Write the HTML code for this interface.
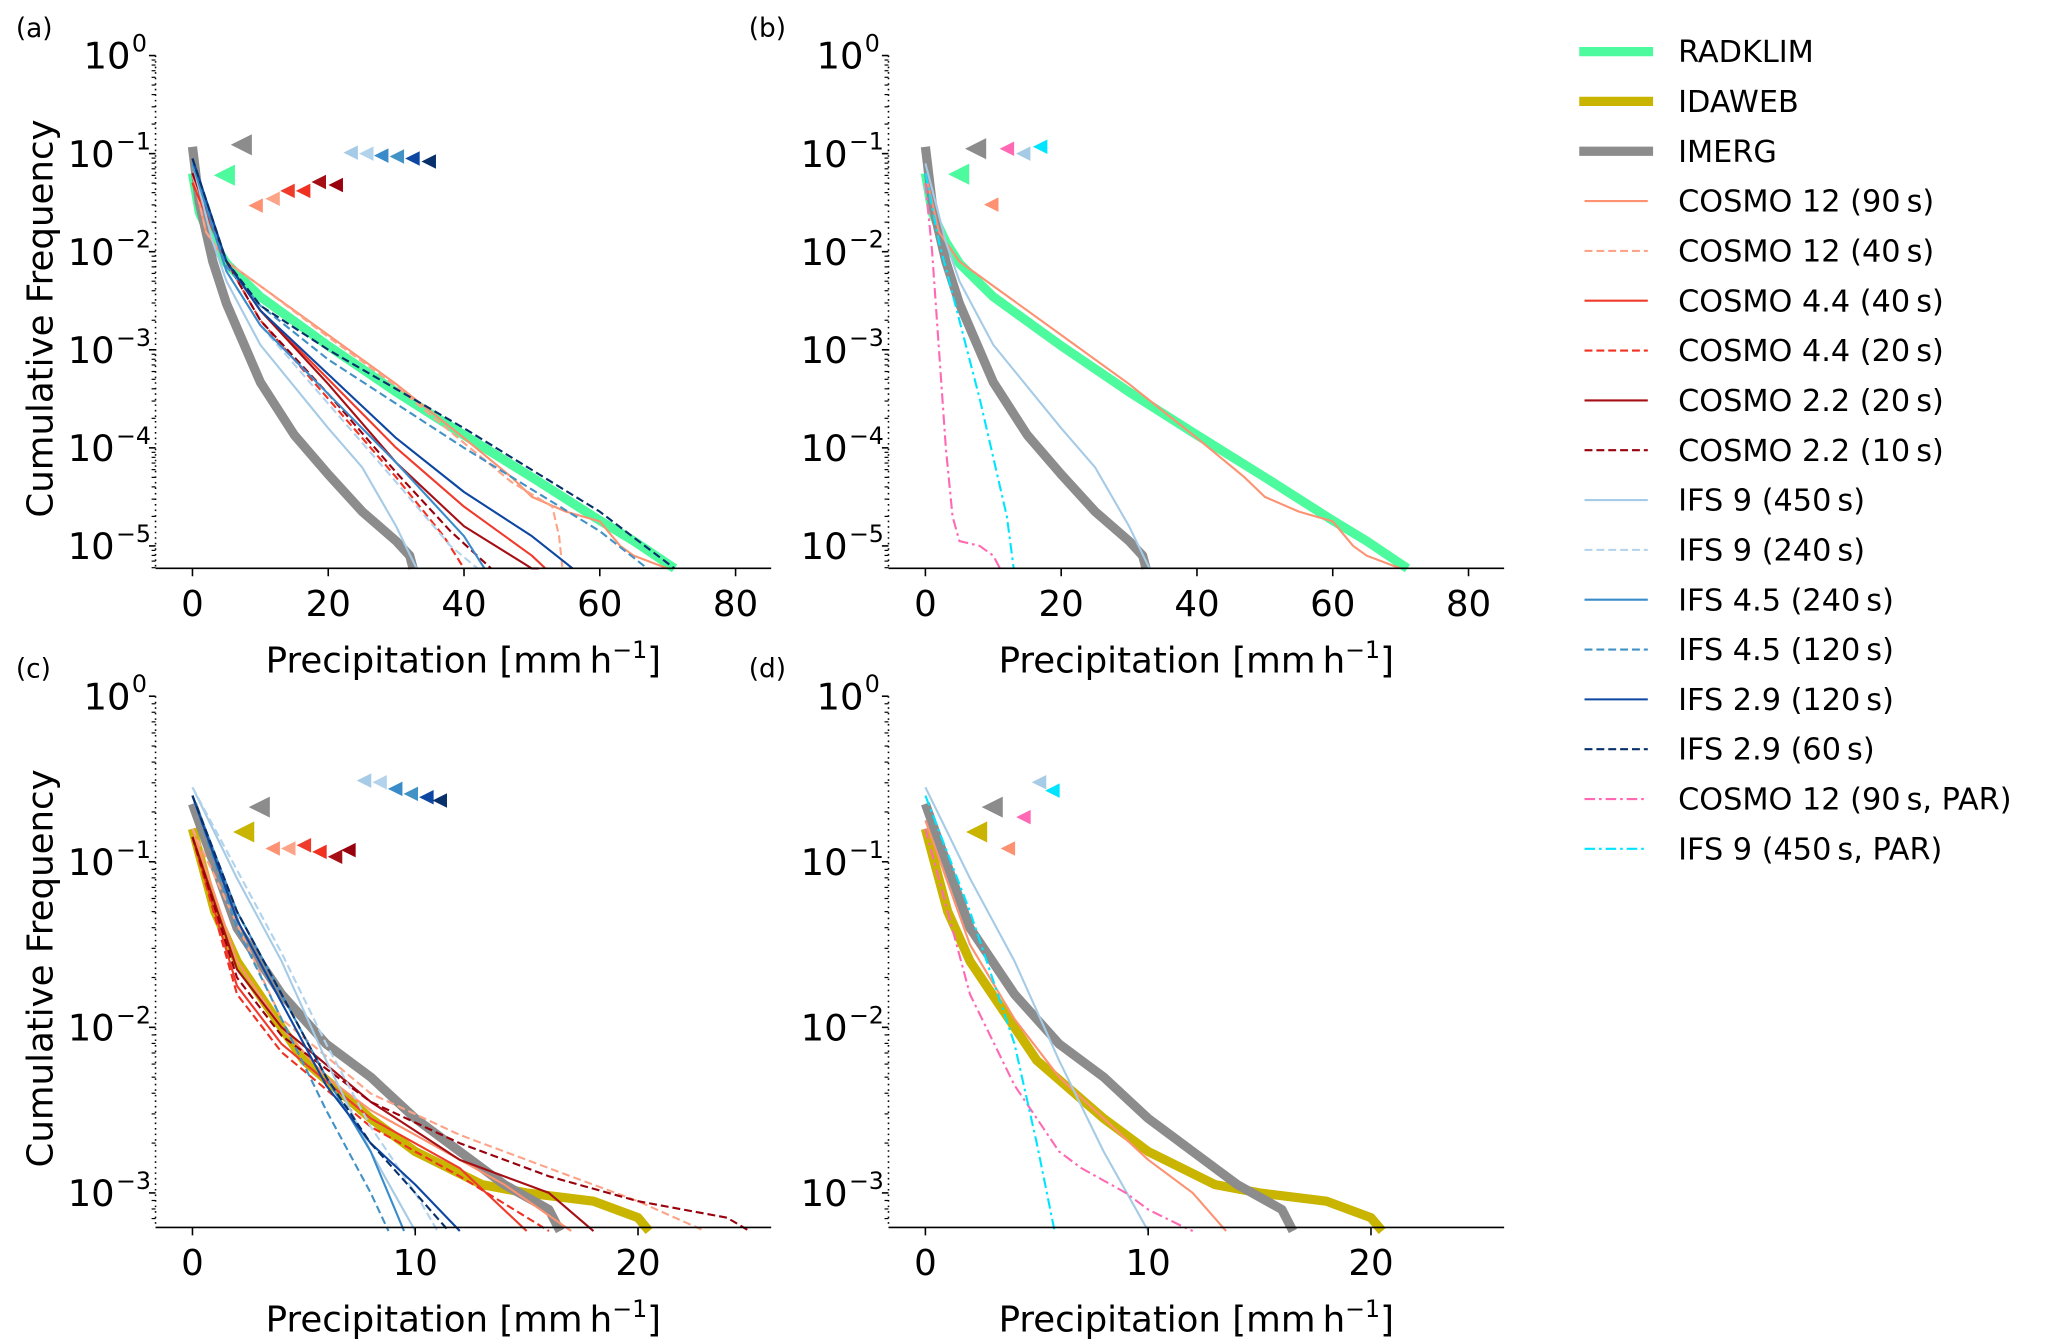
<!DOCTYPE html>
<html><head><meta charset="utf-8"><style>
html,body{margin:0;padding:0;background:#fff}
svg{display:block;font-family:"DejaVu Sans","Liberation Sans",sans-serif}
</style></head><body>
<svg id="chart" xmlns="http://www.w3.org/2000/svg" width="2067" height="1341" viewBox="0 0 1568 1017"></svg>
<script>
// ---- series metadata ----
const seriesNames = ["RADKLIM","IDAWEB","IMERG","COSMO 12 (90\u2009s)","COSMO 12 (40\u2009s)","COSMO 4.4 (40\u2009s)","COSMO 4.4 (20\u2009s)","COSMO 2.2 (20\u2009s)","COSMO 2.2 (10\u2009s)","IFS 9 (450\u2009s)","IFS 9 (240\u2009s)","IFS 4.5 (240\u2009s)","IFS 4.5 (120\u2009s)","IFS 2.9 (120\u2009s)","IFS 2.9 (60\u2009s)","COSMO 12 (90\u2009s, PAR)","IFS 9 (450\u2009s, PAR)"];
const seriesColors = ["#4dfa9d","#c9b400","#8c8c8c","#fc9272","#fca488","#ef3b2c","#f03020","#a50f15","#99000d","#a6cbe6","#b3d3ec","#3a8bc9","#4292c6","#0d47a1","#08306b","#ff69b4","#00e5ff"];
// ---- panel (a): x values [mm/h], log10 frequency ----
const aX = {
 0:[0,1,3,5,10,20,30,40,50,60,65,71],
 2:[0,1,3,5,10,15,20,25,30,32,32.5],
 3:[0,2,5,10,20,30,40,47,50,55,60,63,65,70],
 4:[0,2,5,10,20,30,40,47,53,54,54.5],
 5:[0,5,10,20,30,40,50,52],
 6:[0,5,10,20,30,37,40],
 7:[0,5,10,20,30,40,50,51],
 8:[0,5,10,20,30,38,44],
 9:[0,3,5,10,20,25,30,33],
 10:[0,5,10,20,30,38,42],
 11:[0,5,10,20,30,40,43],
 12:[0,5,10,20,40,60,67],
 13:[0,5,10,20,30,40,50,56],
 14:[0,5,10,20,40,60,71]};
const aY = {
 0:[-1.2,-1.6,-1.9,-2.12,-2.46,-2.96,-3.43,-3.87,-4.3,-4.74,-4.95,-5.23],
 2:[-0.93,-1.5,-2.1,-2.53,-3.33,-3.87,-4.27,-4.65,-4.95,-5.1,-5.23],
 3:[-1.2,-1.8,-2.1,-2.35,-2.85,-3.35,-3.9,-4.3,-4.5,-4.65,-4.75,-5.0,-5.1,-5.23],
 4:[-1.2,-1.8,-2.1,-2.35,-2.87,-3.37,-3.95,-4.35,-4.6,-4.9,-5.23],
 5:[-1.3,-2.1,-2.6,-3.3,-4.0,-4.6,-5.1,-5.23],
 6:[-1.3,-2.1,-2.7,-3.5,-4.3,-4.9,-5.23],
 7:[-1.2,-2.1,-2.6,-3.35,-4.15,-4.8,-5.23,-5.23],
 8:[-1.2,-2.1,-2.7,-3.45,-4.25,-4.85,-5.23],
 9:[-1.1,-1.9,-2.3,-2.95,-3.8,-4.2,-4.8,-5.23],
 10:[-1.1,-2.2,-2.75,-3.55,-4.35,-5.0,-5.23],
 11:[-1.1,-2.2,-2.75,-3.45,-4.15,-4.9,-5.23],
 12:[-1.1,-2.15,-2.55,-3.1,-4.0,-4.85,-5.23],
 13:[-1.05,-2.1,-2.6,-3.25,-3.9,-4.45,-4.9,-5.23],
 14:[-1.05,-2.1,-2.55,-3.0,-3.8,-4.65,-5.23]};
// ---- panel (b) ----
const bX = {0:aX[0],2:aX[2],3:aX[3],9:aX[9],
 15:[0,1,2,3,4,5,8,10,11],
 16:[0,2,5,8,10,12,13]};
const bY = {0:aY[0],2:aY[2],3:aY[3],9:aY[9],
 15:[-1.3,-2.0,-3.0,-4.0,-4.7,-4.95,-5.0,-5.1,-5.23],
 16:[-1.2,-1.9,-2.7,-3.5,-4.1,-4.7,-5.23]};
// ---- panel (c) ----
const cX = {
 1:[0,1,2,3,5,8,10,13,15,18,20,20.5],
 2:[0,2,4,6,8,10,12,14,16,16.5],
 3:[0,2,4,6,8,10,14,17],
 4:[0,4,8,12,16,20,23],
 5:[0,2,4,8,12,15],
 6:[0,2,4,8,12,16],
 7:[0,2,4,8,12,16,18],
 8:[0,2,4,8,12,16,20,24,25],
 9:[0,2,4,6,8,10],
 10:[0,2,4,6,8,10,11],
 11:[0,2,4,6,8,9.5],
 12:[0,2,4,6,8,8.8],
 13:[0,2,4,6,8,10,12],
 14:[0,2,4,6,8,10,11.5]};
const cY = {
 1:[-0.8,-1.3,-1.6,-1.8,-2.2,-2.55,-2.75,-2.95,-3.0,-3.05,-3.15,-3.23],
 2:[-0.65,-1.4,-1.8,-2.1,-2.3,-2.55,-2.75,-2.95,-3.1,-3.23],
 3:[-0.8,-1.6,-2.0,-2.3,-2.5,-2.65,-2.95,-3.23],
 4:[-0.8,-1.95,-2.4,-2.65,-2.85,-3.05,-3.23],
 5:[-0.85,-1.75,-2.1,-2.55,-2.85,-3.23],
 6:[-0.85,-1.8,-2.15,-2.6,-2.9,-3.23],
 7:[-0.85,-1.65,-2.0,-2.45,-2.8,-3.0,-3.23],
 8:[-0.85,-1.7,-2.05,-2.45,-2.7,-2.9,-3.05,-3.15,-3.23],
 9:[-0.55,-1.1,-1.6,-2.2,-2.75,-3.23],
 10:[-0.55,-1.05,-1.55,-2.1,-2.6,-3.0,-3.23],
 11:[-0.6,-1.3,-1.8,-2.3,-2.75,-3.23],
 12:[-0.6,-1.4,-1.95,-2.5,-3.0,-3.23],
 13:[-0.6,-1.35,-1.85,-2.35,-2.7,-2.95,-3.23],
 14:[-0.6,-1.3,-1.8,-2.3,-2.7,-3.0,-3.23]};
// ---- panel (d) ----
const dX = {1:cX[1],2:cX[2],9:cX[9],
 3:[0,2,4,6,8,10,12,13.5],
 15:[0,2,4,5,6,7,9,10,11.5,12],
 16:[0,2,4,5,5.8]};
const dY = {1:cY[1],2:cY[2],9:cY[9],
 3:[-0.75,-1.5,-1.95,-2.3,-2.55,-2.8,-3.0,-3.23],
 15:[-0.8,-1.8,-2.35,-2.55,-2.75,-2.85,-3.0,-3.1,-3.2,-3.23],
 16:[-0.6,-1.3,-2.1,-2.7,-3.23]};
// ---- triangle markers (series index, x, log10 y) ----
const aMarkS=[2,0,3,4,5,6,7,8,9,10,11,12,13,14];
const aMarkX=[7.2,4.7,9.3,11.8,14.0,16.3,18.6,21.1,23.3,25.6,27.8,30.1,32.4,34.8];
const aMarkY=[-0.91,-1.22,-1.53,-1.46,-1.38,-1.38,-1.29,-1.32,-0.99,-1.0,-1.02,-1.03,-1.05,-1.08];
const bMarkS=[2,0,3,15,9,16];
const bMarkX=[7.4,4.9,9.7,12,14.4,16.9];
const bMarkY=[-0.95,-1.21,-1.52,-0.95,-1.0,-0.93];
const cMarkS=[2,1,3,4,5,6,7,8,9,10,11,12,13,14];
const cMarkX=[3.0,2.3,3.6,4.3,5.0,5.7,6.4,7.0,7.7,8.4,9.1,9.8,10.5,11.1];
const cMarkY=[-0.67,-0.82,-0.92,-0.92,-0.9,-0.94,-0.97,-0.93,-0.51,-0.52,-0.56,-0.59,-0.61,-0.63];
const dMarkS=[2,1,3,15,9,16];
const dMarkX=[3.0,2.3,3.7,4.4,5.1,5.7];
const dMarkY=[-0.67,-0.82,-0.92,-0.73,-0.52,-0.57];
const xTicksTop=[0,20,40,60,80];
const xTicksBot=[0,10,20];

const NS="http://www.w3.org/2000/svg";
const svg=document.getElementById('chart');
function mk(tag,attrs,parent){const e=document.createElementNS(NS,tag);for(const k in attrs)e.setAttribute(k,attrs[k]);(parent||svg).appendChild(e);return e;}
function styleOf(i){
  if(i<=2) return {w:7,dash:null};
  if(i>=15) return {w:1.6,dash:"8,3,2,3"};
  const dashed=[4,6,8,10,12,14].includes(i);
  return {w:1.6,dash:dashed?"6,3":null};
}
const panels=[
 {id:'a',left:118,right:585,top:42,bottom:431,x0px:146,xUnit:5.15,y0:42,dec:74.4,ymin:-5.23,X:aX,Y:aY,order:[0,2,3,4,5,6,7,8,9,10,11,12,13,14],MS:aMarkS,MX:aMarkX,MY:aMarkY,ticks:xTicksTop,yd:5},
 {id:'b',left:674,right:1141,top:42,bottom:431,x0px:702,xUnit:5.15,y0:42,dec:74.4,ymin:-5.23,X:bX,Y:bY,order:[0,2,3,9,15,16],MS:bMarkS,MX:bMarkX,MY:bMarkY,ticks:xTicksTop,yd:5},
 {id:'c',left:118,right:585,top:528,bottom:931,x0px:146,xUnit:16.9,y0:528,dec:125.6,ymin:-3.23,X:cX,Y:cY,order:[1,2,3,4,5,6,7,8,9,10,11,12,13,14],MS:cMarkS,MX:cMarkX,MY:cMarkY,ticks:xTicksBot,yd:3},
 {id:'d',left:674,right:1141,top:528,bottom:931,x0px:702,xUnit:16.9,y0:528,dec:125.6,ymin:-3.23,X:dX,Y:dY,order:[1,2,3,9,15,16],MS:dMarkS,MX:dMarkX,MY:dMarkY,ticks:xTicksBot,yd:3}
];
panels.forEach(p=>{
  const g=mk('g',{});
  
  
  const sx=v=>p.x0px+v*p.xUnit;
  const sy=v=>p.y0-v*p.dec;
  const lab=mk('text',{x:p.left-106,y:p.top-14,'font-size':20,fill:'#000'},g);
  lab.textContent='('+p.id+')';
  
  
  p.order.forEach(i=>{
    const xs=p.X[i], ys=p.Y[i];
    let d='';
    for(let k=0;k<xs.length;k++){d+=(k?'L':'M')+sx(xs[k]).toFixed(1)+','+sy(Math.max(ys[k],p.ymin)).toFixed(1);}
    const st=styleOf(i);
    const path=mk('path',{d:d,fill:'none',stroke:seriesColors[i],'stroke-width':st.w,'stroke-linejoin':'round'},g);
    if(st.dash) path.setAttribute('stroke-dasharray',st.dash);
    
    
  });
  p.MS.forEach((s,k)=>{
    const cx=sx(p.MX[k]), cy=sy(p.MY[k]);
    const big=s<=2?8:5.5;
    const tri=mk('polygon',{points:`${cx-big},${cy} ${cx+big},${cy-big} ${cx+big},${cy+big}`,fill:seriesColors[s]},g);
    
    
  });
  const yAx=mk('line',{x1:p.left,y1:p.top,x2:p.left,y2:p.bottom,stroke:'#000','stroke-width':1.2,'stroke-dasharray':'1.2,3'},g);
  
  
  const xAx=mk('line',{x1:p.left,y1:p.bottom,x2:p.right,y2:p.bottom,stroke:'#000','stroke-width':1.2},g);
  
  
  for(let e=0;e<=p.yd;e++){
    const y=sy(-e);
    mk('line',{x1:p.left-5,y1:y,x2:p.left,y2:y,stroke:'#000','stroke-width':1.2},g);
    for(let m=2;m<=9;m++){const ym=sy(-e-1+Math.log10(m));if(ym<=p.bottom&&ym>=p.top)mk('line',{x1:p.left-3,y1:ym,x2:p.left,y2:ym,stroke:'#000','stroke-width':0.9},g);}
    const t=mk('text',{x:e===0?p.left-19:p.left-31,y:y+10,'font-size':28,'text-anchor':'end',fill:'#000'},g);
    t.textContent='10';
    
    
    const sup=mk('text',{x:e===0?p.left-18:p.left-30,y:y-3,'font-size':18,'text-anchor':'start',fill:'#000'},g);
    sup.textContent=e===0?'0':'\u2212'+e;
  }
  p.ticks.forEach(v=>{
    const x=sx(v);
    mk('line',{x1:x,y1:p.bottom,x2:x,y2:p.bottom+6,stroke:'#000','stroke-width':1.2},g);
    const t=mk('text',{x:x,y:p.bottom+36,'font-size':27,'text-anchor':'middle',fill:'#000'},g);
    t.textContent=String(v);
    
    
  });
  const xl=mk('text',{x:(p.left+p.right)/2,y:p.bottom+79,'font-size':27,'text-anchor':'middle',fill:'#000'},g);
  xl.innerHTML='Precipitation [mm\u2009h<tspan dy="-11" font-size="18">\u22121</tspan><tspan dy="11">]</tspan>';
  
  
  if(p.id==='a'||p.id==='c'){
    const cy=(p.top+p.bottom)/2+5;
    const yl=mk('text',{x:40,y:cy,'font-size':27,'text-anchor':'middle',fill:'#000',transform:`rotate(-90 40 ${cy})`},g);
    yl.textContent='Cumulative Frequency';
    
    
  }
});
const lg=mk('g',{});


seriesNames.forEach((n,i)=>{
  const y=39+i*37.8;
  const st=styleOf(i);
  const ln=mk('line',{x1:i<=2?1198:1202,y1:y,x2:i<=2?1254:1250,y2:y,stroke:seriesColors[i],'stroke-width':st.w},lg);
  if(st.dash) ln.setAttribute('stroke-dasharray',st.dash);
  const t=mk('text',{x:1273,y:y+8,'font-size':23,fill:'#000'},lg);
  t.textContent=n;
  
  
});
</script>
</body></html>
